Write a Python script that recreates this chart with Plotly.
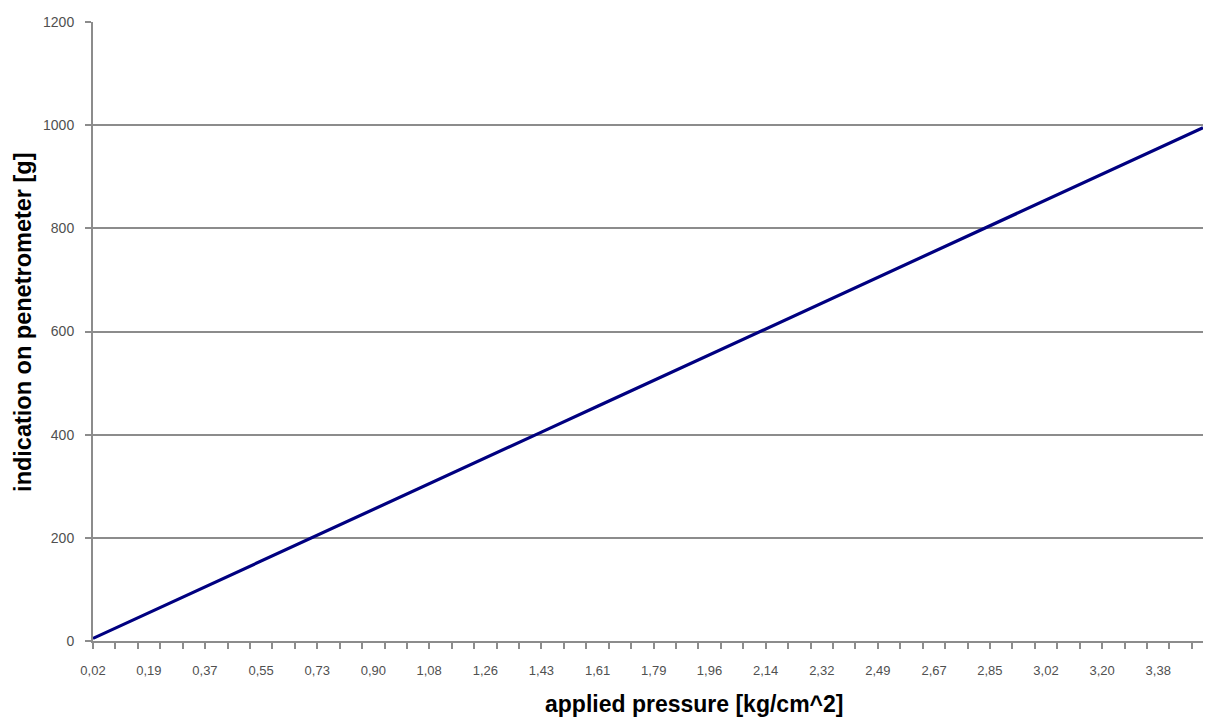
import plotly.graph_objects as go

# Applied pressure [kg/cm^2] (category values, every 10th category plus the last one)
pressure = [0.018, 0.194, 0.371, 0.548, 0.725, 0.902, 1.078, 1.255, 1.432, 1.609,
            1.786, 1.962, 2.139, 2.316, 2.493, 2.670, 2.846, 3.023, 3.200, 3.377, 3.518]
# Indication on penetrometer [g]
indication = [5, 55, 105, 155, 205, 255, 305, 355, 405, 455,
              505, 555, 605, 655, 705, 755, 805, 855, 905, 955, 995]
# Tick labels as shown on the category axis
tick_labels = ["0,02", "0,19", "0,37", "0,55", "0,73", "0,90", "1,08", "1,26", "1,43", "1,61",
               "1,79", "1,96", "2,14", "2,32", "2,49", "2,67", "2,85", "3,02", "3,20", "3,38"]
y_ticks = [0, 200, 400, 600, 800, 1000, 1200]

step = (pressure[-1] - pressure[0]) / 198.0

fig = go.Figure()
fig.add_trace(go.Scatter(
    x=pressure, y=indication, mode="lines",
    line=dict(color="#000080", width=3.2),
    showlegend=False, hoverinfo="skip",
))

axis_gray = "#8c8c8c"
fam = "Arial, Liberation Sans, sans-serif"

fig.update_xaxes(
    range=[pressure[0], pressure[-1]],
    tickmode="array", tickvals=pressure[:len(tick_labels)], ticktext=tick_labels,
    ticks="", showgrid=False, zeroline=False,
    showline=True, linecolor=axis_gray, linewidth=2,
    tickfont=dict(family=fam, size=13, color="#505050"), ticklabelstandoff=16,
    minor=dict(ticks="outside", ticklen=6, tickwidth=2, tickcolor=axis_gray,
               tick0=pressure[0], dtick=4 * step, showgrid=False),
    automargin=False,
)
fig.update_yaxes(
    range=[0, 1200], tickmode="array", tickvals=y_ticks,
    ticks="outside", ticklen=6, tickwidth=1.5, tickcolor=axis_gray,
    showgrid=True, gridcolor=axis_gray, gridwidth=2,
    zeroline=False, showline=True, linecolor=axis_gray, linewidth=2,
    tickfont=dict(family=fam, size=14, color="#505050"), ticklabelstandoff=8,
    automargin=False,
)

fig.add_annotation(text="<b>applied pressure [kg/cm^2]</b>", xref="paper", yref="paper",
                   x=0.5415, y=-0.101, xanchor="center", yanchor="middle",
                   showarrow=False, font=dict(family=fam, size=23, color="#000000"))
fig.add_annotation(text="<b>indication on penetrometer [g]</b>", xref="paper", yref="paper",
                   x=-0.063, y=0.514, xanchor="center", yanchor="middle", textangle=-90,
                   showarrow=False, font=dict(family=fam, size=23.5, color="#000000"))

fig.update_layout(
    width=1206, height=719,
    margin=dict(l=93, r=3, t=22, b=78, autoexpand=False),
    plot_bgcolor="white", paper_bgcolor="white",
)

fig.write_html("out.html", config={"displayModeBar": False},
               post_script="document.body.style.margin='0';")
